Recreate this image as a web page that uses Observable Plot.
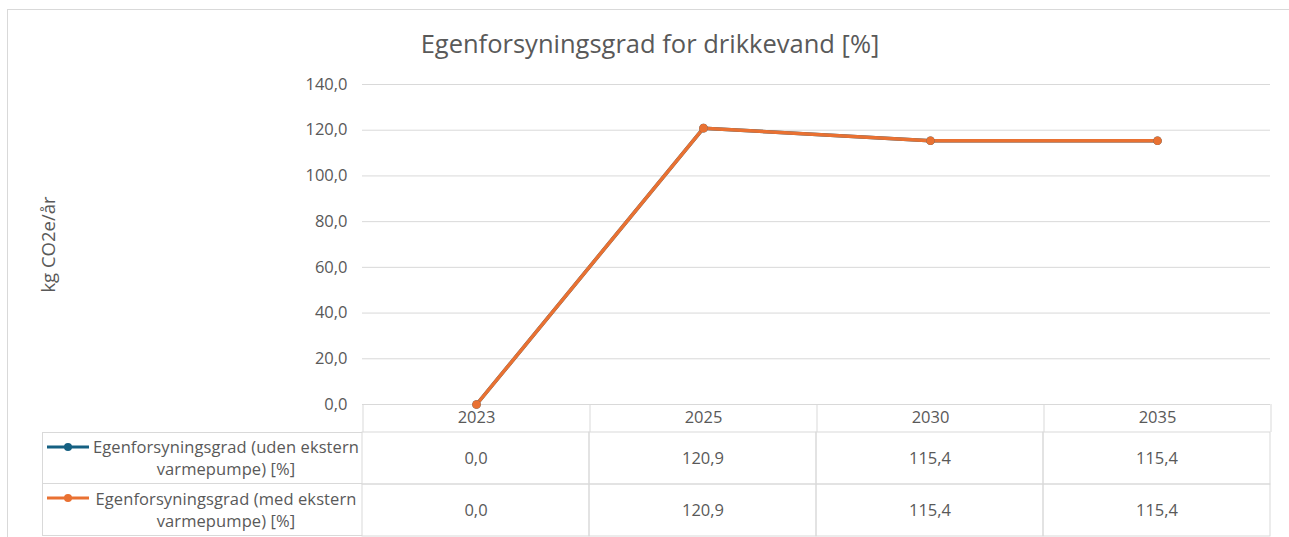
<!DOCTYPE html>
<html><head><meta charset="utf-8">
<script src="https://cdn.jsdelivr.net/npm/d3@7"></script>
<script src="https://cdn.jsdelivr.net/npm/@observablehq/plot@0.6"></script>
<style>
body{margin:0;background:#fff;font-family:"Open Sans",sans-serif;}
#c{position:relative;width:1289px;height:537px;overflow:hidden;background:#fff;}
#frame{position:absolute;left:7px;top:9px;width:1300px;height:600px;border-left:1.5px solid #d9d9d9;border-top:1.5px solid #d9d9d9;}
#title{position:absolute;left:0;width:1300px;top:26px;text-align:center;font-size:25.5px;color:#595959;}
.abs{position:absolute;left:0;}
#legend{position:absolute;left:42px;top:432px;width:320px;}
.lrow{box-sizing:border-box;height:52px;border:1px solid #d9d9d9;border-right:none;display:flex;align-items:center;padding-left:3px;color:#595959;font-size:16.5px;line-height:22px;letter-spacing:0.1px;}
.lrow + .lrow{border-top:none;}
.lrow .txt{flex:1;text-align:center;white-space:nowrap;}
</style></head><body>
<div id="c">
  <div id="frame"></div>
  <div id="title">Egenforsyningsgrad for drikkevand [%]</div>
  <div id="chartA" class="abs" style="top:0"></div>
  <div id="chartB" class="abs" style="top:432px"></div>
  <div id="legend"></div>
</div>
<script>
const years = ["2023", "2025", "2030", "2035"];
const seriesNames = [
  "Egenforsyningsgrad (uden ekstern varmepumpe) [%]",
  "Egenforsyningsgrad (med ekstern varmepumpe) [%]"
];
const seriesLines = [
  ["Egenforsyningsgrad (uden ekstern", "varmepumpe) [%]"],
  ["Egenforsyningsgrad (med ekstern", "varmepumpe) [%]"]
];
const udenValues = [0.0, 120.9, 115.4, 115.4];
const medValues = [0.0, 120.9, 115.4, 115.4];
const seriesColors = ["#156082", "#E97132"];
const yTicks = [0, 20, 40, 60, 80, 100, 120, 140];
const yLabel = "kg CO2e/år";

const fmt = v => v.toFixed(1).replace(".", ",");
const rows = [];
[udenValues, medValues].forEach((vals, i) => {
  vals.forEach((v, j) => rows.push({series: seriesNames[i], year: years[j], value: v}));
});

const font = "'Open Sans', sans-serif";
const grey = "#595959";
const lineGrey = "#d9d9d9";

const chartA = Plot.plot({
  width: 1289, height: 432,
  marginTop: 84, marginBottom: 28, marginLeft: 362, marginRight: 19,
  style: {fontFamily: font, fontSize: "16.5px", color: grey, background: "transparent", overflow: "visible"},
  x: {type: "point", domain: years, padding: 0.5, axis: null},
  y: {domain: [0, 140], axis: null},
  color: {domain: seriesNames, range: seriesColors},
  marks: [
    Plot.gridY(yTicks, {stroke: lineGrey, strokeOpacity: 1}),
    Plot.axisY(yTicks, {anchor: "left", tickSize: 0, tickPadding: 15, tickFormat: fmt, fill: grey, label: null}),
    Plot.axisY([], {anchor: "left", tickSize: 0, fill: grey, fontSize: 18.5,
      label: yLabel, labelAnchor: "center", labelOffset: 321, labelArrow: "none"}),
    Plot.axisX(years, {anchor: "bottom", tickSize: 0, tickPadding: 7, fill: grey, label: null}),
    Plot.axisX(years, {anchor: "bottom", tickSize: 28, dx: -113.5, tickFormat: () => "", stroke: lineGrey, strokeOpacity: 1, label: null}),
    Plot.axisX([years[years.length - 1]], {anchor: "bottom", tickSize: 28, dx: 113.5, tickFormat: () => "", stroke: lineGrey, strokeOpacity: 1, label: null}),
    Plot.ruleY([0], {stroke: lineGrey}),
    Plot.line(rows, {x: "year", y: "value", z: "series", stroke: "series", strokeWidth: 3.5}),
    Plot.dot(rows, {x: "year", y: "value", fill: "series", r: 4.3})
  ]
});
document.getElementById("chartA").appendChild(chartA);

const chartB = Plot.plot({
  width: 1289, height: 105,
  marginTop: 0, marginBottom: 1, marginLeft: 362, marginRight: 19,
  style: {fontFamily: font, fontSize: "16.5px", color: grey, background: "transparent", overflow: "visible"},
  x: {type: "band", domain: years, padding: 0, axis: null},
  y: {type: "band", domain: seriesNames, padding: 0, axis: null},
  marks: [
    Plot.cell(rows, {x: "year", y: "series", fill: "none", stroke: lineGrey}),
    Plot.text(rows, {x: "year", y: "series", text: d => fmt(d.value), fill: grey, fontSize: 16.5})
  ]
});
document.getElementById("chartB").appendChild(chartB);

const legend = document.getElementById("legend");
seriesNames.forEach((s, i) => {
  const row = document.createElement("div");
  row.className = "lrow";
  row.innerHTML = `<svg width="44" height="44" style="flex:none;align-self:flex-start;margin-top:-8px"><line x1="1" x2="43" y1="22" y2="22" stroke="${seriesColors[i]}" stroke-width="3"/><circle cx="22" cy="22" r="4" fill="${seriesColors[i]}"/></svg><div class="txt">${seriesLines[i][0]}<br>${seriesLines[i][1]}</div>`;
  legend.appendChild(row);
});
</script>
</body></html>
